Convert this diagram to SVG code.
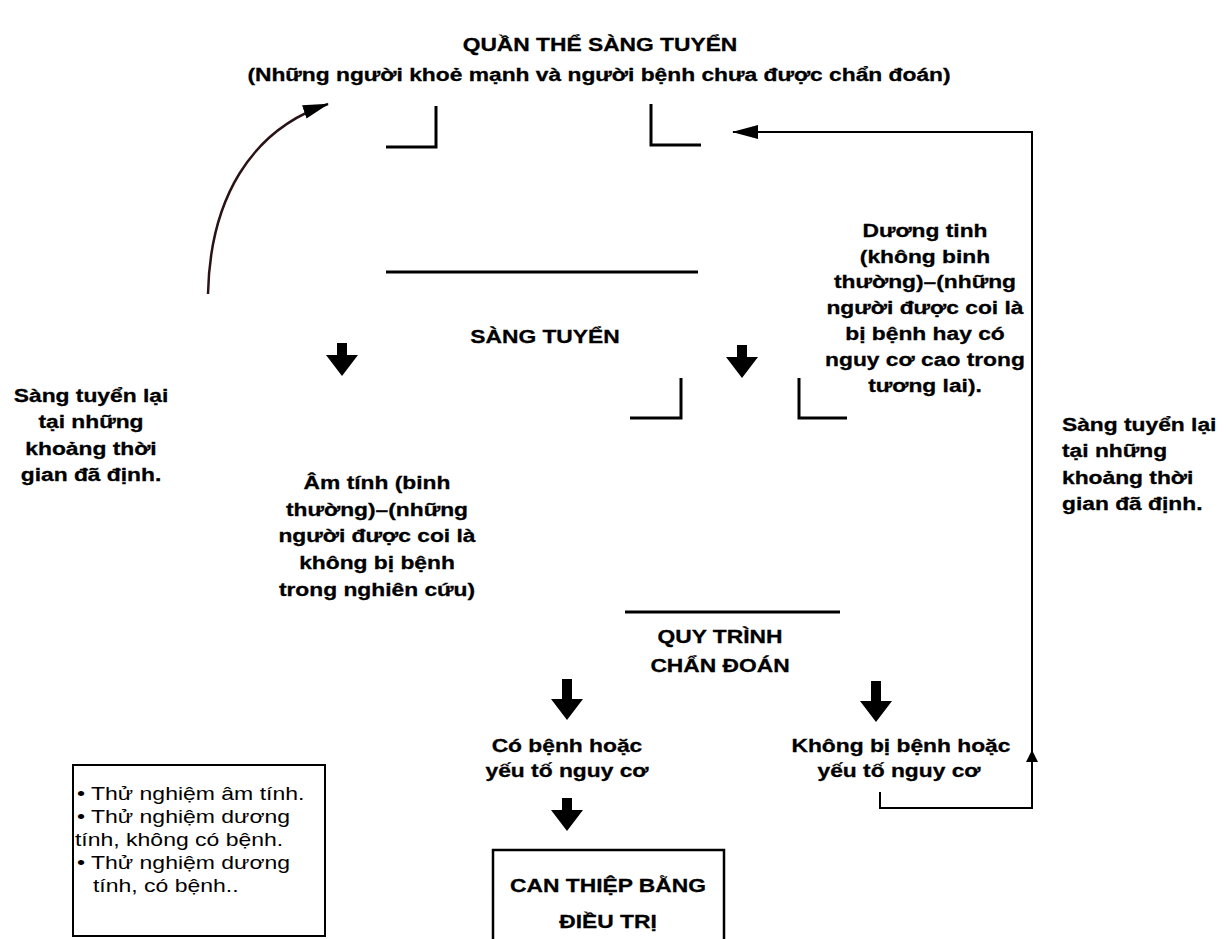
<svg xmlns="http://www.w3.org/2000/svg" width="1226" height="939" viewBox="0 0 1226 939">
  <style>
    .b { font-family: "Liberation Sans", Arial, sans-serif; font-weight: bold; font-size: 19px; fill: #000; stroke: #000; stroke-width: 0.3; text-anchor: middle; transform-box: fill-box; transform-origin: center; transform: scaleX(1.2); }
    .bl { text-anchor: start; transform-origin: left; }
    .r { font-family: "Liberation Sans", Arial, sans-serif; font-size: 19px; fill: #000; text-anchor: start; transform-box: fill-box; transform-origin: left; transform: scaleX(1.21); }
    .ln { fill: none; stroke: #000; stroke-width: 3; }
    .thin { fill: none; stroke: #000; stroke-width: 2; }
    .blk { fill: #000; }
  </style>
  <defs>
    <marker id="head" viewBox="0 0 26 14" refX="25" refY="7" markerWidth="26" markerHeight="14" markerUnits="userSpaceOnUse" orient="auto">
      <path d="M0,0 L26,7 L0,14 Z" fill="#000"/>
    </marker>
    <path id="downArrow" d="M-5,0 H5 V12 H16 L0,33 L-16,12 H-5 Z"/>
    <path id="downArrowLong" d="M-5,0 H5 V20 H16 L0,41 L-16,20 H-5 Z"/>
  </defs>
  <rect width="1226" height="939" fill="#fff"/>

  <!-- headings -->
  <g id="population">
    <text class="b" x="600" y="51">QUẦN THỂ SÀNG TUYỂN</text>
    <text class="b" x="599" y="81">(Những người khoẻ mạnh và người bệnh chưa được chẩn đoán)</text>
  </g>

  <!-- bracket marks and rules -->
  <g id="screening-frame">
    <path class="ln" d="M386,147 H436 V106"/>
    <path class="ln" d="M651,104 V145 H701"/>
    <line class="ln" x1="386" y1="272" x2="698" y2="272"/>
    <text class="b" x="545" y="343">SÀNG TUYỂN</text>
  </g>

  <g id="diagnosis-frame">
    <path class="ln" d="M630,418 H681 V378"/>
    <path class="ln" d="M799,378 V418 H847"/>
    <line class="ln" x1="625" y1="612" x2="840" y2="612"/>
    <text class="b" x="720" y="643">QUY TRÌNH</text>
    <text class="b" x="720" y="672">CHẨN ĐOÁN</text>
  </g>

  <g id="rescreen-left">
    <text class="b" x="91" y="402">Sàng tuyển lại</text>
    <text class="b" x="91" y="428">tại những</text>
    <text class="b" x="91" y="455">khoảng thời</text>
    <text class="b" x="91" y="481">gian đã định.</text>
  </g>

  <g id="rescreen-right">
    <text class="b bl" x="1062" y="431">Sàng tuyển lại</text>
    <text class="b bl" x="1062" y="457">tại những</text>
    <text class="b bl" x="1062" y="484">khoảng thời</text>
    <text class="b bl" x="1062" y="510">gian đã định.</text>
  </g>

  <g id="positive">
    <text class="b" x="925" y="237">Dương tinh</text>
    <text class="b" x="925" y="263">(không binh</text>
    <text class="b" x="925" y="288">thường)–(những</text>
    <text class="b" x="925" y="314">người được coi là</text>
    <text class="b" x="925" y="340">bị bệnh hay có</text>
    <text class="b" x="925" y="366">nguy cơ cao trong</text>
    <text class="b" x="925" y="392">tương lai).</text>
  </g>

  <g id="negative">
    <text class="b" x="377" y="489">Âm tính (binh</text>
    <text class="b" x="377" y="516">thường)–(những</text>
    <text class="b" x="377" y="542">người được coi là</text>
    <text class="b" x="377" y="569">không bị bệnh</text>
    <text class="b" x="377" y="596">trong nghiên cứu)</text>
  </g>

  <g id="disease">
    <text class="b" x="567" y="752">Có bệnh hoặc</text>
    <text class="b" x="567" y="777">yếu tố nguy cơ</text>
  </g>

  <g id="no-disease">
    <text class="b" x="901" y="752">Không bị bệnh hoặc</text>
    <text class="b" x="899" y="777">yếu tố nguy cơ</text>
  </g>

  <g id="treatment">
    <rect x="493" y="850" width="231" height="100" fill="none" stroke="#000" stroke-width="2.5"/>
    <text class="b" x="608" y="892">CAN THIỆP BẰNG</text>
    <text class="b" x="608" y="928">ĐIỀU TRỊ</text>
  </g>

  <g id="legend">
    <rect x="73" y="765" width="252" height="171" fill="none" stroke="#000" stroke-width="2"/>
    <text class="r" x="77" y="800">• Thử nghiệm âm tính.</text>
    <text class="r" x="77" y="823">• Thử nghiệm dương</text>
    <text class="r" x="75" y="846">tính, không có bệnh.</text>
    <text class="r" x="77" y="869">• Thử nghiệm dương</text>
    <text class="r" x="93" y="892">tính, có bệnh..</text>
  </g>

  <!-- connectors -->
  <g id="connectors">
    <path d="M208,294 C210,200 250,130 328,104" fill="none" stroke="#2a1216" stroke-width="2.5" marker-end="url(#head)"/>
    <path class="thin" d="M880,792 V808 H1032 V132 H733" marker-end="url(#head)"/>
    <path class="blk" d="M1032,750 L1038,762 L1026,762 Z"/>
    <use href="#downArrow" class="blk" x="342" y="343"/>
    <use href="#downArrow" class="blk" x="742" y="345"/>
    <use href="#downArrowLong" class="blk" x="567" y="679"/>
    <use href="#downArrowLong" class="blk" x="876" y="681"/>
    <use href="#downArrow" class="blk" x="567" y="798"/>
  </g>
</svg>
